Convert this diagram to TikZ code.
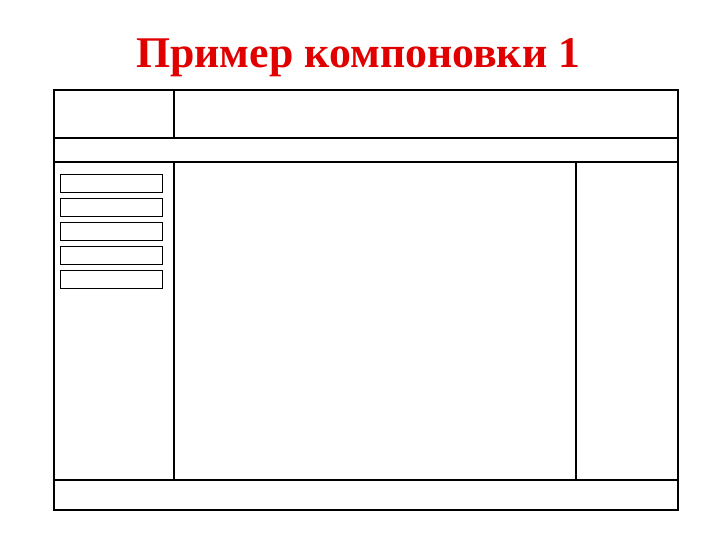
\documentclass[tikz,border=0pt]{standalone}
\usepackage{fontspec}
\setmainfont{Liberation Serif}
\definecolor{titlered}{RGB}{225,0,0}
\begin{document}
\begin{tikzpicture}[x=1pt,y=-1pt,
  thick line/.style={draw=black,line width=2pt},
  thin box/.style={draw=black,line width=1.1pt}]
\useasboundingbox (0,0) rectangle (720,540);
\node[text=titlered,font=\bfseries\fontsize{43.8}{50}\selectfont,anchor=base,inner sep=0pt] (title) at (358.2,68) {Пример компоновки 1};
% outer frame
\draw[thick line] (54,90) rectangle (678,510);
% header
\draw[thick line] (54,137.7) -- (678,137.7);
\draw[thick line] (173.7,90) -- (173.7,137.7);
% nav bar
\draw[thick line] (54,161.7) -- (678,161.7);
% columns
\draw[thick line] (173.7,161.7) -- (173.7,480);
\draw[thick line] (576,161.7) -- (576,480);
% footer
\draw[thick line] (54,480) -- (678,480);
% menu items
\foreach \i in {0,...,4}{
  \draw[thin box] (60.5,174.3+24*\i) rectangle (162.2,192.3+24*\i);
}
\end{tikzpicture}
\end{document}
